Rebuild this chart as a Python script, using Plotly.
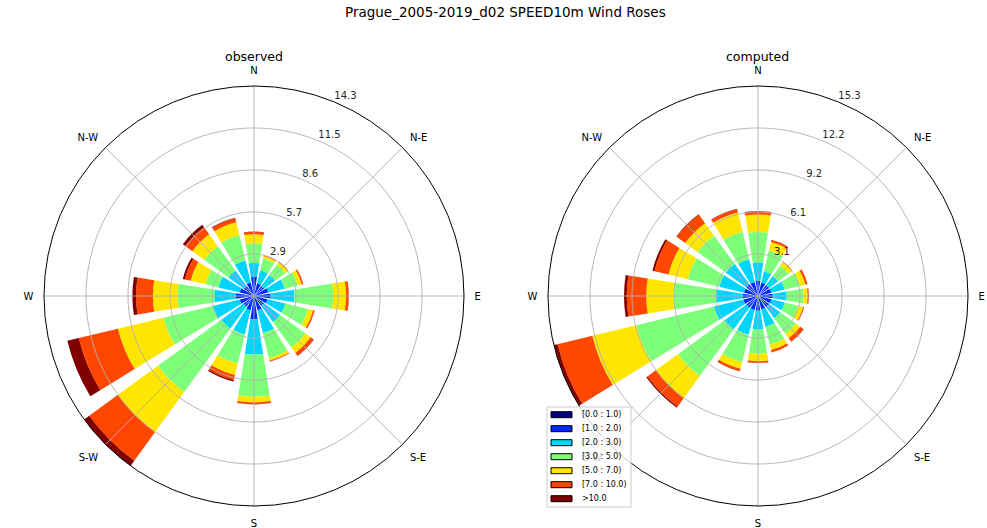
import plotly.graph_objects as go

# ---- wind direction sectors (degrees, clockwise from north) ----
DIRECTIONS = [0.0, 22.5, 45.0, 67.5, 90.0, 112.5, 135.0, 157.5,
              180.0, 202.5, 225.0, 247.5, 270.0, 292.5, 315.0, 337.5]
COMPASS_ANGLES = [0, 45, 90, 135, 180, 225, 270, 315]
COMPASS_LABELS = ["N", "N-E", "E", "S-E", "S", "S-W", "W", "N-W"]

SPEED_BINS = ["[0.0 : 1.0)", "[1.0 : 2.0)", "[2.0 : 3.0)", "[3.0 : 5.0)",
              "[5.0 : 7.0)", "[7.0 : 10.0)", ">10.0"]
BIN_COLORS = ["#000080", "#0029ff", "#00d4ff", "#7dff7a",
              "#ffe600", "#ff4700", "#800000"]

# ---- observed frequencies (%) per speed bin, one value per sector ----
obs_0_1 = [0.15, 0.12, 0.12, 0.13, 0.15, 0.13, 0.12, 0.13,
           0.18, 0.13, 0.12, 0.13, 0.15, 0.12, 0.12, 0.12]
obs_1_2 = [1.17, 0.78, 0.73, 0.87, 0.99, 0.82, 0.73, 0.87,
           1.41, 0.87, 0.78, 0.87, 1.10, 0.88, 0.73, 0.83]
obs_2_3 = [0.95, 0.90, 0.92, 1.15, 1.61, 1.25, 1.35, 1.60,
           2.41, 1.70, 1.86, 1.90, 1.47, 1.50, 1.30, 1.55]
obs_3_5 = [1.33, 0.85, 0.88, 0.92, 2.65, 1.60, 2.15, 1.76,
           2.87, 2.05, 5.34, 3.45, 2.50, 0.90, 2.05, 1.78]
obs_5_7 = [0.61, 0.15, 0.20, 0.28, 0.88, 0.35, 0.45, 0.18,
           0.39, 0.80, 3.40, 3.20, 1.68, 1.05, 1.00, 0.90]
obs_7_10 = [0.17, 0.05, 0.05, 0.10, 0.17, 0.10, 0.23, 0.06,
            0.12, 0.35, 2.40, 2.75, 1.15, 0.40, 0.60, 0.27]
obs_10p = [0.02, 0.01, 0.01, 0.01, 0.02, 0.01, 0.03, 0.01,
           0.02, 0.10, 0.43, 0.80, 0.25, 0.15, 0.20, 0.05]

# ---- computed frequencies (%) per speed bin, one value per sector ----
cmp_0_1 = [0.15, 0.12, 0.12, 0.12, 0.13, 0.12, 0.12, 0.12,
           0.14, 0.13, 0.13, 0.14, 0.14, 0.13, 0.13, 0.13]
cmp_1_2 = [0.97, 0.88, 0.88, 0.88, 0.94, 0.88, 0.88, 0.88,
           0.93, 0.92, 0.92, 0.96, 0.96, 0.92, 0.92, 0.92]
cmp_2_3 = [1.33, 0.85, 0.80, 1.00, 1.03, 1.00, 1.00, 1.30,
           1.38, 1.85, 1.95, 2.20, 1.95, 1.85, 1.85, 1.70]
cmp_3_5 = [2.21, 1.55, 0.95, 1.15, 1.22, 1.00, 1.40, 1.35,
           1.75, 2.05, 4.20, 5.80, 3.11, 2.35, 2.55, 2.05]
cmp_5_7 = [1.27, 0.65, 0.30, 0.40, 0.30, 0.38, 0.40, 0.40,
           0.55, 0.50, 2.00, 3.30, 1.97, 1.45, 1.10, 1.45]
cmp_7_10 = [0.22, 0.15, 0.05, 0.15, 0.08, 0.07, 0.30, 0.17,
            0.11, 0.17, 0.75, 2.60, 1.42, 1.05, 0.75, 0.25]
cmp_10p = [0.03, 0.01, 0.01, 0.01, 0.01, 0.01, 0.02, 0.01,
           0.02, 0.02, 0.10, 0.28, 0.20, 0.15, 0.05, 0.02]

OBSERVED = [obs_0_1, obs_1_2, obs_2_3, obs_3_5, obs_5_7, obs_7_10, obs_10p]
COMPUTED = [cmp_0_1, cmp_1_2, cmp_2_3, cmp_3_5, cmp_5_7, cmp_7_10, cmp_10p]

TITLE = "Prague_2005-2019_d02 SPEED10m Wind Roses"
FONT = "DejaVu Sans"
W, H = 987, 528
SECTOR_WIDTH = 0.8 * 360 / len(DIRECTIONS)
GRID_COLOR = "#b0b0b0"
RLABEL_THETA = 22.5   # compass bearing of the ring labels


def px_x(x):
    return x / W


def px_y(y):
    return 1 - y / H


fig = go.Figure()


def add_rose(subplot, series):
    totals = [sum(v) for v in zip(*series)]
    rmax = max(totals)
    for vals, color, name in zip(series, BIN_COLORS, SPEED_BINS):
        fig.add_trace(go.Barpolar(
            r=vals, theta=DIRECTIONS, width=[SECTOR_WIDTH] * len(DIRECTIONS),
            marker=dict(color=color, line=dict(width=0)),
            name=name, subplot=subplot, showlegend=False, hoverinfo="skip"))
    # five equally spaced rings, the last one being the outer edge
    rings = [rmax * k / 5 for k in range(1, 5)] + [rmax]
    # grid drawn over the bars, as in the matplotlib windrose style
    circle = [i * 2.0 for i in range(181)]
    for rr in rings[:-1]:
        fig.add_trace(go.Scatterpolar(
            r=[rr] * len(circle), theta=circle, mode="lines",
            line=dict(color=GRID_COLOR, width=0.9), subplot=subplot,
            showlegend=False, hoverinfo="skip"))
    for ang in COMPASS_ANGLES:
        fig.add_trace(go.Scatterpolar(
            r=[0, rmax], theta=[ang, ang], mode="lines",
            line=dict(color=GRID_COLOR, width=0.9), subplot=subplot,
            showlegend=False, hoverinfo="skip"))
    # ring value labels, sitting just above-right of each ring
    fig.add_trace(go.Scatterpolar(
        r=rings, theta=[RLABEL_THETA] * len(rings), mode="text",
        text=[f"{v:.1f}" for v in rings], textposition="top right",
        textfont=dict(family=FONT, size=10, color="#262626"),
        subplot=subplot, showlegend=False, hoverinfo="skip",
        cliponaxis=False))
    return rmax, rings


def polar_layout(x0, x1, rmax, rings):
    return dict(
        domain=dict(x=[px_x(x0), px_x(x1)], y=[px_y(506), px_y(86)]),
        bgcolor="white",
        barmode="stack",
        angularaxis=dict(
            rotation=90, direction="clockwise",
            tickmode="array", tickvals=COMPASS_ANGLES, ticktext=COMPASS_LABELS,
            showgrid=False, showline=True, linecolor="black", linewidth=1,
            ticks="outside", ticklen=8, tickcolor="rgba(0,0,0,0)",
            tickfont=dict(family=FONT, size=10, color="black")),
        radialaxis=dict(
            range=[0, rmax], tickmode="array", tickvals=rings,
            showticklabels=False,
            showgrid=False, showline=False, ticks=""),
    )


rmax_obs, rings_obs = add_rose("polar", OBSERVED)
rmax_cmp, rings_cmp = add_rose("polar2", COMPUTED)

annotations = [
    dict(text=TITLE, x=px_x(505), y=px_y(12), font=dict(size=13.5)),
    dict(text="observed", x=px_x(254), y=px_y(57), font=dict(size=12.5)),
    dict(text="computed", x=px_x(757), y=px_y(57), font=dict(size=12.5)),
]
for a in annotations:
    a.update(xref="paper", yref="paper", showarrow=False,
             xanchor="center", yanchor="middle")
    a["font"].update(family=FONT, color="black")

# legend box with one colour patch per speed bin
shapes = [dict(type="rect", xref="paper", yref="paper",
               x0=px_x(547), x1=px_x(631), y0=px_y(507), y1=px_y(407),
               fillcolor="rgba(255,255,255,0.8)",
               line=dict(color="#cccccc", width=1))]
for i, (name, color) in enumerate(zip(SPEED_BINS, BIN_COLORS)):
    cy = 414.7 + 14 * i
    shapes.append(dict(type="rect", xref="paper", yref="paper",
                       x0=px_x(551), x1=px_x(572),
                       y0=px_y(cy + 3), y1=px_y(cy - 3),
                       fillcolor=color, line=dict(color="black", width=1)))
    annotations.append(dict(text=name, xref="paper", yref="paper",
                            x=px_x(580), y=px_y(cy), showarrow=False,
                            xanchor="left", yanchor="middle",
                            font=dict(family=FONT, size=8, color="black")))

fig.update_layout(
    template="none",
    width=W, height=H,
    margin=dict(l=0, r=0, t=0, b=0),
    paper_bgcolor="white",
    showlegend=False,
    polar=polar_layout(44, 464, rmax_obs, rings_obs),
    polar2=polar_layout(548, 968, rmax_cmp, rings_cmp),
    annotations=annotations,
    shapes=shapes,
)

fig.write_html("out.html")
